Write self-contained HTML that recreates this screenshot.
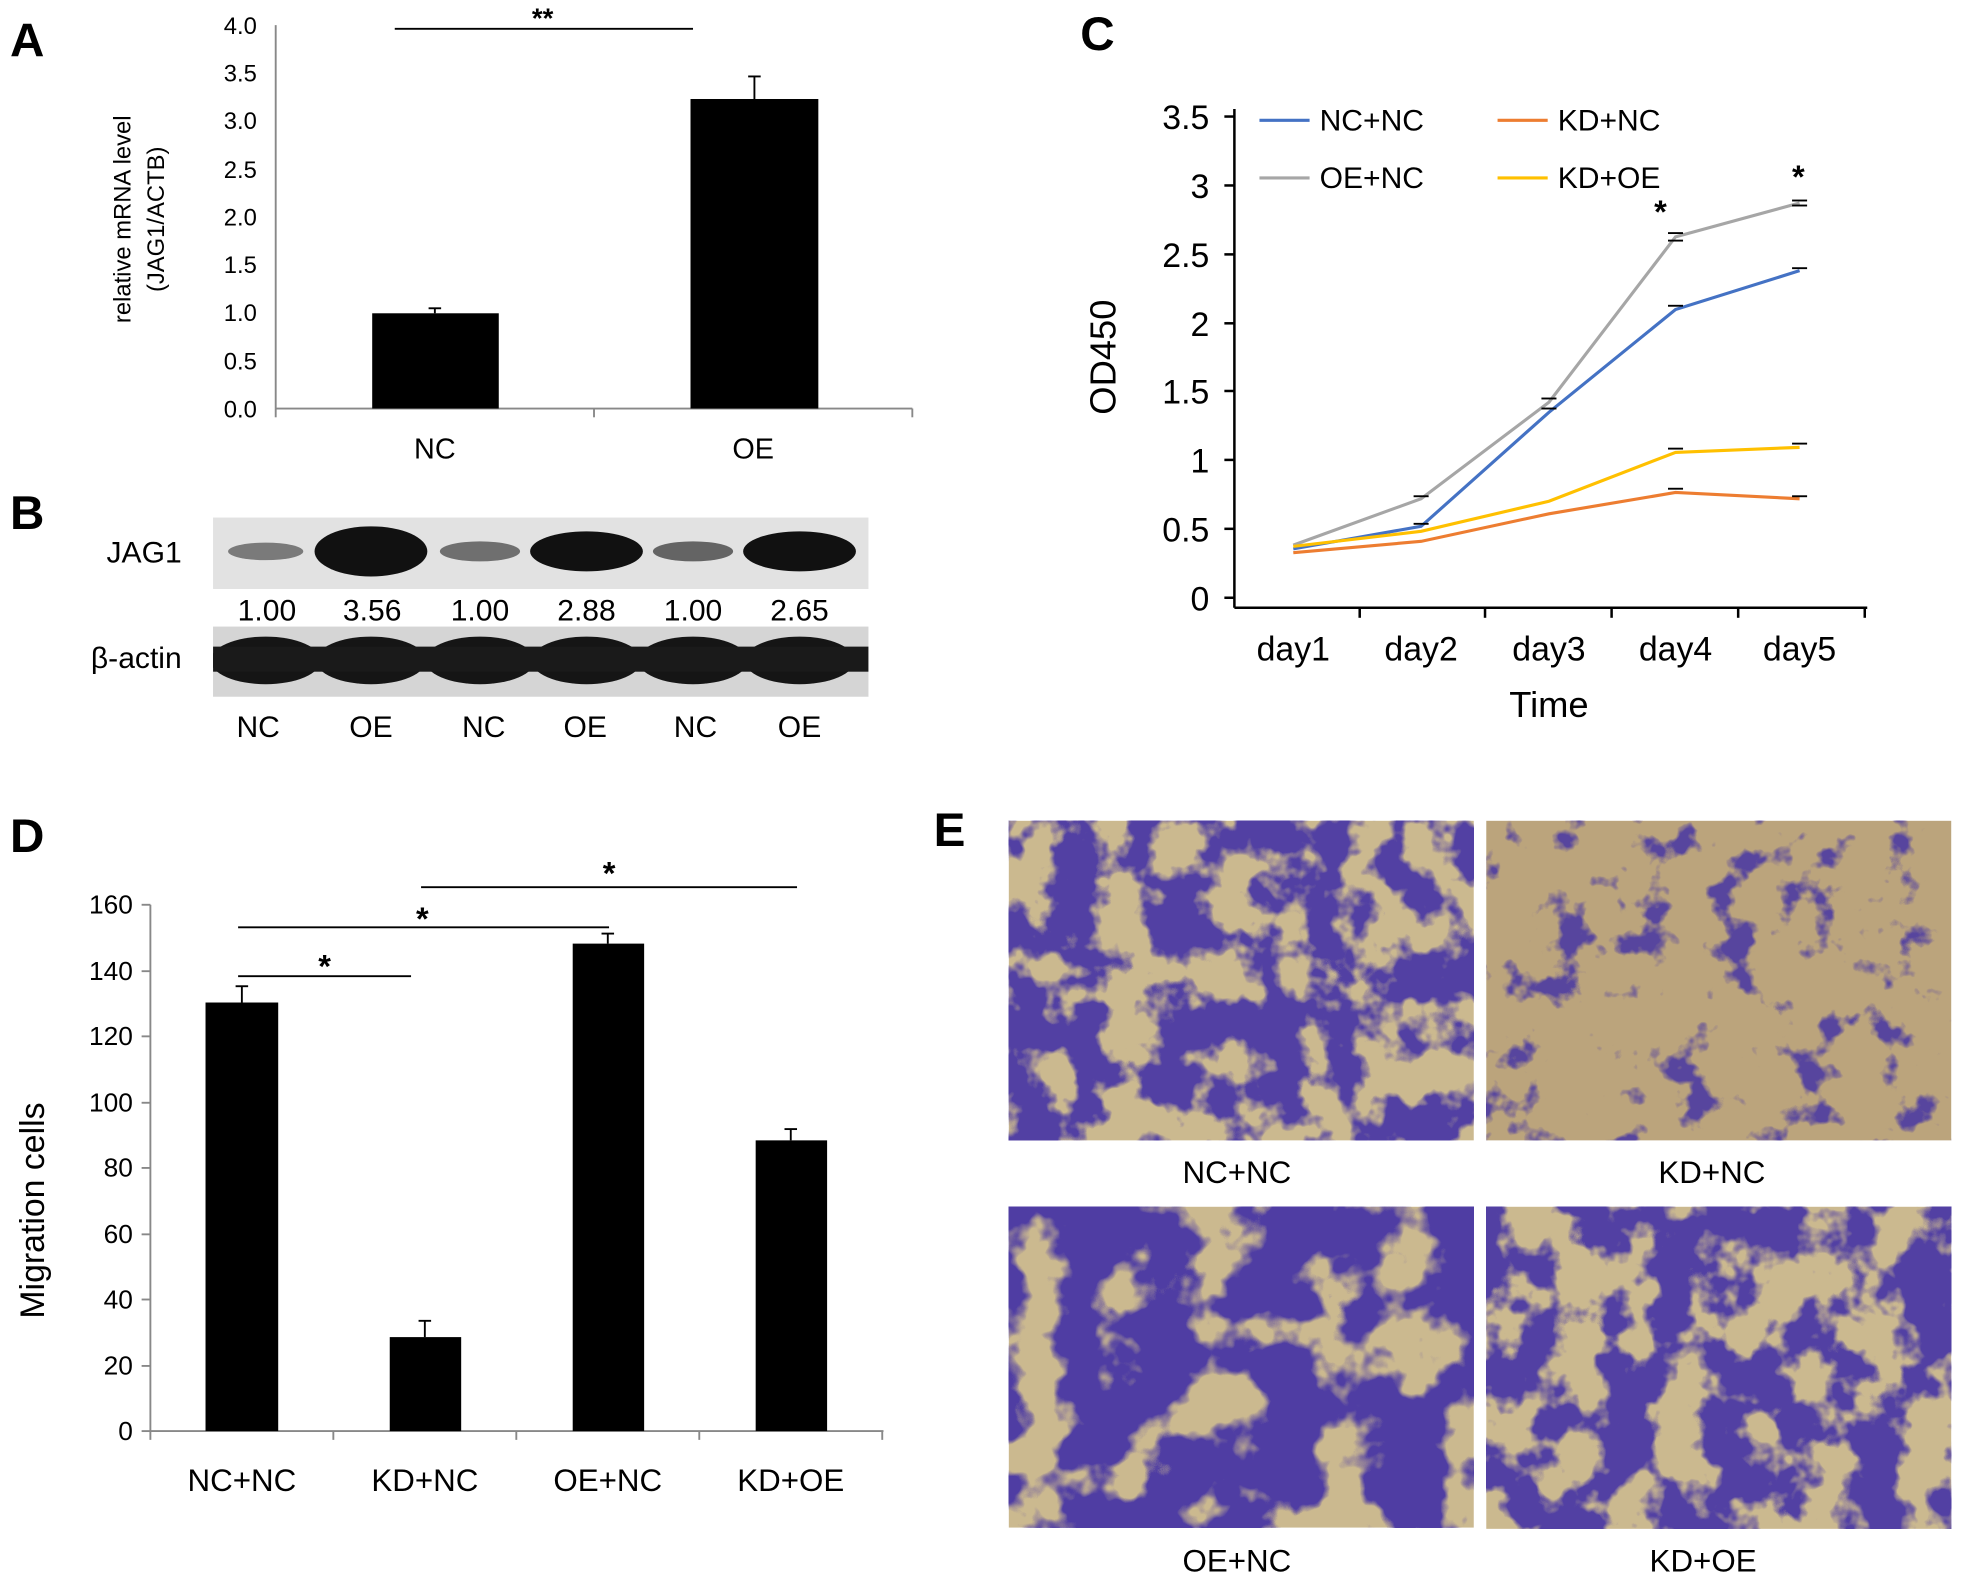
<!DOCTYPE html>
<html><head><meta charset="utf-8"><style>
html,body{margin:0;padding:0;background:#fff}
svg{display:block}
text{font-family:"Liberation Sans",Arial,sans-serif;fill:#000}
</style></head><body>
<svg width="1965" height="1594" viewBox="0 0 1568 1272" preserveAspectRatio="none" xmlns="http://www.w3.org/2000/svg">
<defs>
<filter id="blob1" x="0" y="0" width="100%" height="100%" color-interpolation-filters="sRGB">
<feTurbulence type="fractalNoise" baseFrequency="0.025" numOctaves="4" seed="3"/>
<feColorMatrix type="matrix" values="0 0 0 0 0.32  0 0 0 0 0.25  0 0 0 0 0.64  8 0 0 0 -3.4"/>
</filter>
<filter id="blob2" x="0" y="0" width="100%" height="100%" color-interpolation-filters="sRGB">
<feTurbulence type="fractalNoise" baseFrequency="0.03" numOctaves="4" seed="7"/>
<feColorMatrix type="matrix" values="0 0 0 0 0.34  0 0 0 0 0.27  0 0 0 0 0.62  8 0 0 0 -4.6"/>
</filter>
<filter id="blob3" x="0" y="0" width="100%" height="100%" color-interpolation-filters="sRGB">
<feTurbulence type="fractalNoise" baseFrequency="0.02" numOctaves="4" seed="11"/>
<feColorMatrix type="matrix" values="0 0 0 0 0.31  0 0 0 0 0.24  0 0 0 0 0.64  8 0 0 0 -3.0"/>
</filter>
<clipPath id="bclip"><rect x="170" y="500" width="523" height="56"/></clipPath>
</defs>

<text x="8" y="45" font-size="38" font-weight="bold">A</text>
<text x="8" y="422" font-size="38" font-weight="bold">B</text>
<text x="862" y="40" font-size="38" font-weight="bold">C</text>
<text x="8" y="680" font-size="38" font-weight="bold">D</text>
<text x="745" y="675" font-size="38" font-weight="bold">E</text>

<!-- Panel A -->
<g stroke="#888" stroke-width="1.5">
<line x1="220" y1="20" x2="220" y2="326"/>
<line x1="220" y1="326" x2="728" y2="326"/>
<line x1="474" y1="326" x2="474" y2="333"/>
<line x1="728" y1="326" x2="728" y2="333"/>
<line x1="220" y1="326" x2="220" y2="333"/>
</g>
<g font-size="19" text-anchor="end">
<text x="205" y="333">0.0</text><text x="205" y="295">0.5</text><text x="205" y="256">1.0</text>
<text x="205" y="218">1.5</text><text x="205" y="180">2.0</text><text x="205" y="142">2.5</text>
<text x="205" y="103">3.0</text><text x="205" y="65">3.5</text><text x="205" y="27">4.0</text>
</g>
<text transform="translate(104,175) rotate(-90)" font-size="19" text-anchor="middle">relative mRNA level</text>
<text transform="translate(131,175) rotate(-90)" font-size="19" text-anchor="middle">(JAG1/ACTB)</text>
<rect x="297" y="250" width="101" height="76" fill="#000"/>
<rect x="551" y="79" width="102" height="247" fill="#000"/>
<g stroke="#000" stroke-width="1.5">
<line x1="347" y1="250" x2="347" y2="246"/><line x1="342" y1="246" x2="352" y2="246"/>
<line x1="602" y1="79" x2="602" y2="61"/><line x1="597" y1="61" x2="607" y2="61"/>
<line x1="315" y1="23" x2="553" y2="23"/>
</g>
<text x="433" y="22" font-size="22" font-weight="bold" text-anchor="middle">**</text>
<text x="347" y="366" font-size="23" text-anchor="middle">NC</text>
<text x="601" y="366" font-size="23" text-anchor="middle">OE</text>

<!-- Panel B -->
<rect x="170" y="413" width="523" height="57" fill="#e2e2e2"/>
<g fill="#111">
<ellipse cx="212" cy="440" rx="30" ry="7" opacity="0.5"/>
<ellipse cx="296" cy="440" rx="45" ry="20"/>
<ellipse cx="383" cy="440" rx="32" ry="8" opacity="0.55"/>
<ellipse cx="468" cy="440" rx="45" ry="16"/>
<ellipse cx="553" cy="440" rx="32" ry="8" opacity="0.6"/>
<ellipse cx="638" cy="440" rx="45" ry="16"/>
</g>
<rect x="170" y="500" width="523" height="56" fill="#d5d5d5"/>
<g fill="#151515" clip-path="url(#bclip)">
<ellipse cx="212" cy="527" rx="44" ry="19"/><ellipse cx="296" cy="527" rx="44" ry="19"/>
<ellipse cx="383" cy="527" rx="44" ry="19"/><ellipse cx="468" cy="527" rx="44" ry="19"/>
<ellipse cx="553" cy="527" rx="44" ry="19"/><ellipse cx="638" cy="527" rx="44" ry="19"/>
<rect x="170" y="516" width="523" height="20" fill="#1a1a1a"/>
</g>
<text x="145" y="449" font-size="24" text-anchor="end">JAG1</text>
<text x="145" y="533" font-size="24" text-anchor="end">β-actin</text>
<g font-size="24" text-anchor="middle">
<text x="213" y="495">1.00</text><text x="297" y="495">3.56</text><text x="383" y="495">1.00</text>
<text x="468" y="495">2.88</text><text x="553" y="495">1.00</text><text x="638" y="495">2.65</text>
<text x="206" y="588">NC</text><text x="296" y="588">OE</text><text x="386" y="588">NC</text>
<text x="467" y="588">OE</text><text x="555" y="588">NC</text><text x="638" y="588">OE</text>
</g>

<!-- Panel C -->
<g stroke="#000" stroke-width="2">
<line x1="985" y1="87" x2="985" y2="485"/>
<line x1="985" y1="485" x2="1490" y2="485"/>
<line x1="985" y1="477" x2="977" y2="477"/><line x1="985" y1="422" x2="977" y2="422"/>
<line x1="985" y1="367" x2="977" y2="367"/><line x1="985" y1="312" x2="977" y2="312"/>
<line x1="985" y1="258" x2="977" y2="258"/><line x1="985" y1="203" x2="977" y2="203"/>
<line x1="985" y1="148" x2="977" y2="148"/><line x1="985" y1="93" x2="977" y2="93"/>
<line x1="1085" y1="485" x2="1085" y2="493"/><line x1="1185" y1="485" x2="1185" y2="493"/>
<line x1="1286" y1="485" x2="1286" y2="493"/><line x1="1387" y1="485" x2="1387" y2="493"/>
<line x1="1488" y1="485" x2="1488" y2="493"/>
</g>
<g font-size="27" text-anchor="end">
<text x="965" y="487">0</text><text x="965" y="432">0.5</text><text x="965" y="377">1</text>
<text x="965" y="322">1.5</text><text x="965" y="268">2</text><text x="965" y="213">2.5</text>
<text x="965" y="158">3</text><text x="965" y="103">3.5</text>
</g>
<text transform="translate(890,285) rotate(-90)" font-size="29" text-anchor="middle">OD450</text>
<g font-size="27" text-anchor="middle">
<text x="1032" y="527">day1</text><text x="1134" y="527">day2</text><text x="1236" y="527">day3</text>
<text x="1337" y="527">day4</text><text x="1436" y="527">day5</text>
</g>
<text x="1236" y="572" font-size="29" text-anchor="middle">Time</text>
<g fill="none" stroke-width="2.5">
<polyline stroke="#a6a6a6" points="1032,435 1134,398 1236,321 1337,189 1436,162"/>
<polyline stroke="#4472c4" points="1032,438 1134,420 1236,329 1337,247 1436,216"/>
<polyline stroke="#ffc000" points="1032,436 1134,424 1236,400 1337,361 1436,357"/>
<polyline stroke="#ed7d31" points="1032,441 1134,432 1236,410 1337,393 1436,398"/>
</g>
<g stroke="#000" stroke-width="1.5">
<line x1="1331" y1="186" x2="1343" y2="186"/><line x1="1331" y1="192" x2="1343" y2="192"/>
<line x1="1430" y1="160" x2="1442" y2="160"/><line x1="1430" y1="164" x2="1442" y2="164"/>
<line x1="1331" y1="244" x2="1343" y2="244"/><line x1="1430" y1="214" x2="1442" y2="214"/>
<line x1="1331" y1="358" x2="1343" y2="358"/><line x1="1430" y1="354" x2="1442" y2="354"/>
<line x1="1331" y1="390" x2="1343" y2="390"/><line x1="1430" y1="396" x2="1442" y2="396"/>
<line x1="1230" y1="318" x2="1242" y2="318"/><line x1="1230" y1="326" x2="1242" y2="326"/>
<line x1="1128" y1="396" x2="1140" y2="396"/><line x1="1128" y1="418" x2="1140" y2="418"/>
</g>
<text x="1325" y="178" font-size="26" font-weight="bold" text-anchor="middle">*</text>
<text x="1435" y="150" font-size="26" font-weight="bold" text-anchor="middle">*</text>
<g stroke-width="2.5">
<line x1="1005" y1="96" x2="1045" y2="96" stroke="#4472c4"/>
<line x1="1195" y1="96" x2="1235" y2="96" stroke="#ed7d31"/>
<line x1="1005" y1="142" x2="1045" y2="142" stroke="#a6a6a6"/>
<line x1="1195" y1="142" x2="1235" y2="142" stroke="#ffc000"/>
</g>
<g font-size="24">
<text x="1053" y="104">NC+NC</text><text x="1243" y="104">KD+NC</text>
<text x="1053" y="150">OE+NC</text><text x="1243" y="150">KD+OE</text>
</g>

<!-- Panel D -->
<g stroke="#888" stroke-width="1.5">
<line x1="120" y1="722" x2="120" y2="1142"/>
<line x1="120" y1="1142" x2="705" y2="1142"/>
<line x1="113" y1="1142" x2="120" y2="1142"/><line x1="113" y1="1090" x2="120" y2="1090"/>
<line x1="113" y1="1037" x2="120" y2="1037"/><line x1="113" y1="985" x2="120" y2="985"/>
<line x1="113" y1="932" x2="120" y2="932"/><line x1="113" y1="880" x2="120" y2="880"/>
<line x1="113" y1="827" x2="120" y2="827"/><line x1="113" y1="775" x2="120" y2="775"/>
<line x1="113" y1="722" x2="120" y2="722"/>
<line x1="266" y1="1142" x2="266" y2="1149"/><line x1="412" y1="1142" x2="412" y2="1149"/>
<line x1="558" y1="1142" x2="558" y2="1149"/><line x1="704" y1="1142" x2="704" y2="1149"/>
<line x1="120" y1="1142" x2="120" y2="1149"/>
</g>
<g font-size="21" text-anchor="end">
<text x="106" y="1149">0</text><text x="106" y="1097">20</text><text x="106" y="1044">40</text>
<text x="106" y="992">60</text><text x="106" y="939">80</text><text x="106" y="887">100</text>
<text x="106" y="834">120</text><text x="106" y="782">140</text><text x="106" y="729">160</text>
</g>
<text transform="translate(35,966) rotate(-90)" font-size="27" text-anchor="middle">Migration cells</text>
<g fill="#000">
<rect x="164" y="800" width="58" height="342"/>
<rect x="311" y="1067" width="57" height="75"/>
<rect x="457" y="753" width="57" height="389"/>
<rect x="603" y="910" width="57" height="232"/>
</g>
<g stroke="#000" stroke-width="1.5">
<line x1="193" y1="800" x2="193" y2="787"/><line x1="188" y1="787" x2="198" y2="787"/>
<line x1="339" y1="1067" x2="339" y2="1054"/><line x1="334" y1="1054" x2="344" y2="1054"/>
<line x1="485" y1="753" x2="485" y2="745"/><line x1="480" y1="745" x2="490" y2="745"/>
<line x1="631" y1="910" x2="631" y2="901"/><line x1="626" y1="901" x2="636" y2="901"/>
<line x1="190" y1="779" x2="328" y2="779"/>
<line x1="190" y1="740" x2="486" y2="740"/>
<line x1="336" y1="708" x2="636" y2="708"/>
</g>
<g font-size="26" font-weight="bold" text-anchor="middle">
<text x="259" y="780">*</text><text x="337" y="742">*</text><text x="486" y="706">*</text>
</g>
<g font-size="25" text-anchor="middle">
<text x="193" y="1190">NC+NC</text><text x="339" y="1190">KD+NC</text>
<text x="485" y="1190">OE+NC</text><text x="631" y="1190">KD+OE</text>
</g>

<!-- Panel E -->
<rect x="805" y="655" width="371" height="255" fill="#cbb98f"/>
<rect x="805" y="655" width="371" height="255" filter="url(#blob1)"/>
<rect x="1186" y="655" width="371" height="255" fill="#bba47c"/>
<rect x="1186" y="655" width="371" height="255" filter="url(#blob2)"/>
<rect x="805" y="963" width="371" height="256" fill="#cbb98f"/>
<rect x="805" y="963" width="371" height="256" filter="url(#blob3)"/>
<rect x="1186" y="963" width="371" height="257" fill="#cbb98f"/>
<rect x="1186" y="963" width="371" height="257" filter="url(#blob1)"/>
<g font-size="25" text-anchor="middle">
<text x="987" y="944">NC+NC</text><text x="1366" y="944">KD+NC</text>
<text x="987" y="1254">OE+NC</text><text x="1359" y="1254">KD+OE</text>
</g>
</svg>
</body></html>
